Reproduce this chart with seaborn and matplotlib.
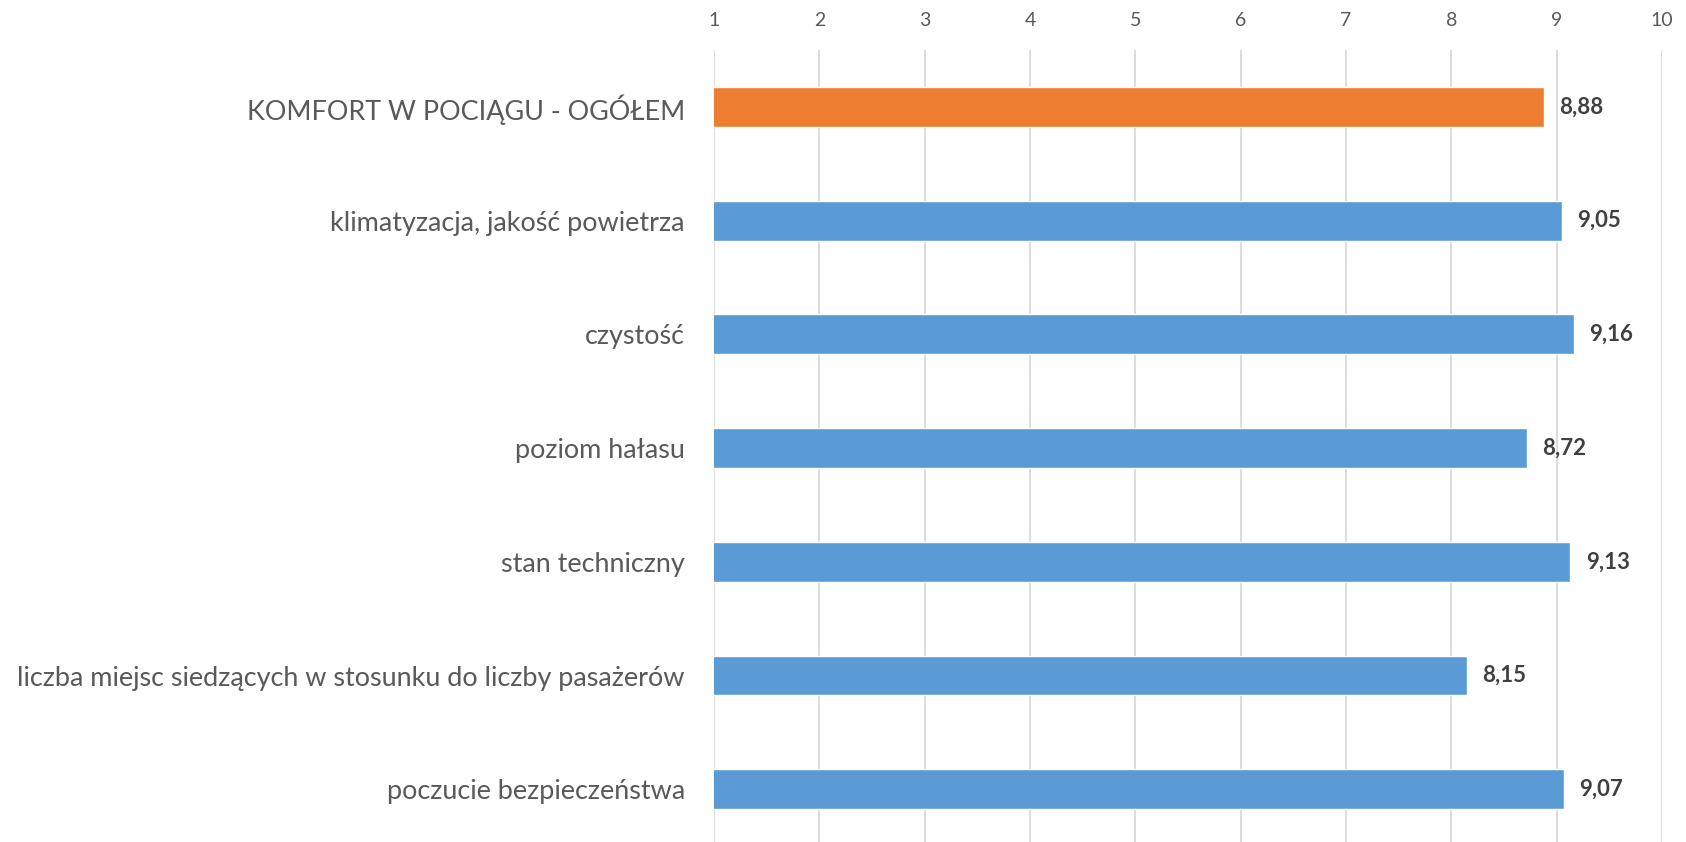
import matplotlib
matplotlib.use("Agg")
import matplotlib.pyplot as plt
import seaborn as sns
import pandas as pd

categories = [
    "KOMFORT W POCIĄGU - OGÓŁEM",
    "klimatyzacja, jakość powietrza",
    "czystość",
    "poziom hałasu",
    "stan techniczny",
    "liczba miejsc siedzących w stosunku do liczby pasażerów",
    "poczucie bezpieczeństwa",
]
values = [8.88, 9.05, 9.16, 8.72, 9.13, 8.15, 9.07]
value_labels = ["8,88", "9,05", "9,16", "8,72", "9,13", "8,15", "9,07"]
x_ticks = [1, 2, 3, 4, 5, 6, 7, 8, 9, 10]

sns.set_theme(style="white")
plt.rcParams["font.family"] = ["Lato", "DejaVu Sans"]

ORANGE = "#ED7D31"
BLUE = "#5B9BD5"
TEXT = "#595959"

df = pd.DataFrame({"cat": categories, "val": values})
palette = {c: (ORANGE if i == 0 else BLUE) for i, c in enumerate(categories)}

fig = plt.figure(figsize=(16.86, 8.42), dpi=100)
ax = fig.add_axes([714 / 1686, -0.005, (1662 - 714) / 1686, 1 - 50 / 842 + 0.005])

sns.barplot(data=df, x="val", y="cat", hue="cat", palette=palette, orient="h",
            width=0.35, legend=False, ax=ax, saturation=1, zorder=3)

ax.set_xlim(1, 10)
ax.set_xticks(x_ticks)
ax.xaxis.tick_top()
ax.set_xlabel("")
ax.set_ylabel("")
for s in ax.spines.values():
    s.set_visible(False)
ax.grid(axis="x", color="#D9D9D9", linewidth=1.3, zorder=0)
ax.grid(axis="y", visible=False)
ax.set_axisbelow(True)
ax.tick_params(axis="x", length=0, pad=15, labelsize=14, labelcolor=TEXT)
ax.tick_params(axis="y", length=0, pad=21, labelcolor=TEXT)

# fit label font size so the longest label spans ~669 px
fig.canvas.draw()
r = fig.canvas.get_renderer()
longest = max(ax.get_yticklabels(), key=lambda t: len(t.get_text()))
test = fig.text(0, 0, longest.get_text(), fontsize=20)
w = test.get_window_extent(renderer=r).width
test.remove()
fs = 20 * 669 / w
for lab in ax.get_yticklabels():
    lab.set_fontsize(fs)

for i, (v, t) in enumerate(zip(values, value_labels)):
    ax.annotate(t, xy=(v, i), xytext=(11, 0), textcoords="offset points",
                ha="left", va="center", fontsize=16, fontweight="bold", color="#404040")

fig.savefig("out.png", dpi=100)
